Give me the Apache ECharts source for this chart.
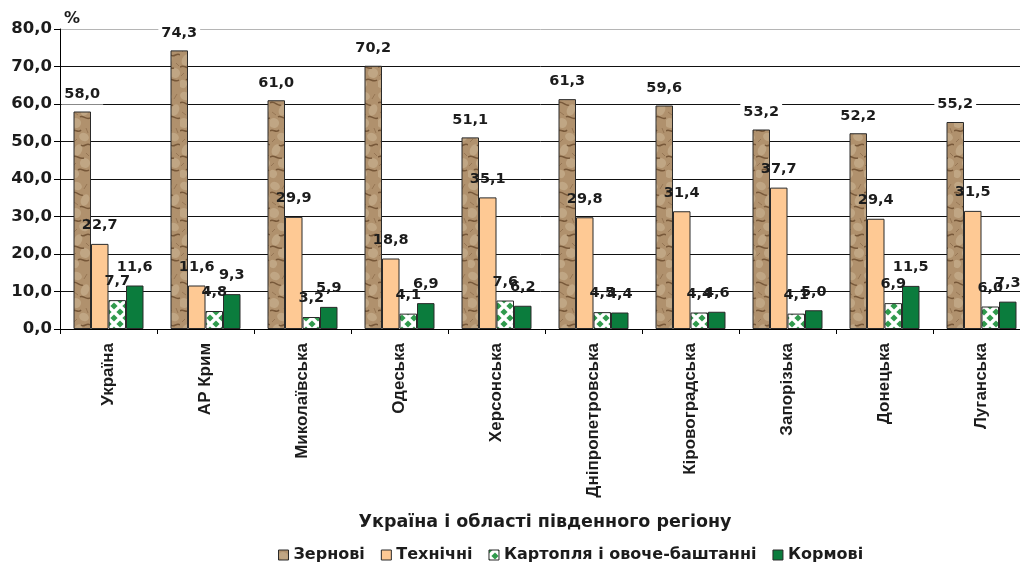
<!DOCTYPE html>
<html>
<head>
<meta charset="utf-8">
<script src="https://cdn.jsdelivr.net/npm/echarts@6/dist/echarts.min.js"></script>
<style>
  html, body { margin: 0; padding: 0; background: #fff; }
  #chart { width: 1020px; height: 564px; }
</style>
</head>
<body>
<div id="chart"></div>
<script>
// регіони
const regions = ['Україна', 'АР Крим', 'Миколаївська', 'Одеська', 'Херсонська',
  'Дніпропетровська', 'Кіровоградська', 'Запорізька', 'Донецька', 'Луганська'];

// частка культур у посівних площах, %
const grain = [58.0, 74.3, 61.0, 70.2, 51.1, 61.3, 59.6, 53.2, 52.2, 55.2];
const industrial = [22.7, 11.6, 29.9, 18.8, 35.1, 29.8, 31.4, 37.7, 29.4, 31.5];
const potatoVeg = [7.7, 4.8, 3.2, 4.1, 7.6, 4.5, 4.4, 4.1, 6.9, 6.0];
const fodder = [11.6, 9.3, 5.9, 6.9, 6.2, 4.4, 4.6, 5.0, 11.5, 7.3];

const seriesNames = ['Зернові', 'Технічні', 'Картопля і овоче-баштанні', 'Кормові'];

const fmt = v => v.toFixed(1).replace('.', ',');

// текстура "камінь" для зернових
function stoneTexture() {
  const c = document.createElement('canvas');
  c.width = 18; c.height = 90;
  const g = c.getContext('2d');
  g.fillStyle = '#b0916d';
  g.fillRect(0, 0, 18, 90);
  // світліші ділянки
  g.fillStyle = 'rgba(205,184,152,0.55)';
  [[5, 6, 5, 4], [13, 20, 4, 6], [4, 33, 5, 5], [12, 47, 5, 4], [6, 60, 4, 6], [13, 73, 5, 5], [3, 84, 4, 4]].forEach(r => {
    g.beginPath(); g.ellipse(r[0], r[1], r[2], r[3], 0.4, 0, Math.PI * 2); g.fill();
  });
  // темні прожилки
  g.strokeStyle = 'rgba(96,64,36,0.7)';
  g.lineWidth = 1.5;
  g.beginPath();
  g.moveTo(0, 13); g.bezierCurveTo(4, 10, 8, 17, 11, 15);
  g.moveTo(8, 27); g.bezierCurveTo(11, 25, 14, 30, 18, 28);
  g.moveTo(0, 41); g.bezierCurveTo(3, 38, 6, 44, 9, 40);
  g.moveTo(9, 55); g.bezierCurveTo(12, 58, 15, 52, 18, 55);
  g.moveTo(0, 67); g.bezierCurveTo(5, 64, 7, 70, 12, 68);
  g.moveTo(6, 80); g.bezierCurveTo(9, 77, 13, 83, 17, 80);
  g.stroke();
  g.strokeStyle = 'rgba(120,86,56,0.45)';
  g.lineWidth = 1;
  g.beginPath();
  g.moveTo(15, 4); g.lineTo(12, 9);
  g.moveTo(2, 22); g.lineTo(6, 25);
  g.moveTo(14, 38); g.lineTo(16, 43);
  g.moveTo(2, 52); g.lineTo(5, 49);
  g.moveTo(14, 63); g.lineTo(17, 66);
  g.moveTo(1, 76); g.lineTo(4, 73);
  g.stroke();
  return c;
}

// ромбики для картоплі
function diamondTexture() {
  const c = document.createElement('canvas');
  c.width = 12; c.height = 12;
  const g = c.getContext('2d');
  g.fillStyle = '#ffffff';
  g.fillRect(0, 0, 12, 12);
  g.fillStyle = '#2f9a4c';
  const d = (x, y) => {
    g.beginPath();
    g.moveTo(x, y - 3.6); g.lineTo(x + 3.6, y); g.lineTo(x, y + 3.6); g.lineTo(x - 3.6, y);
    g.closePath(); g.fill();
  };
  [[0, 0], [12, 0], [0, 12], [12, 12], [6, 6]].forEach(p => d(p[0], p[1]));
  return c;
}

const chart = echarts.init(document.getElementById('chart'));

const hFont = 'DejaVu Sans';
const txt = '#1c1c1c';

const labelBase = {
  show: true,
  position: 'top',
  distance: 11,
  fontFamily: hFont,
  fontWeight: 'bold',
  fontSize: 14.5,
  color: txt,
  formatter: p => fmt(p.value)
};

const mkSeries = (name, data, color, extraLabel) => ({
  name: name,
  type: 'bar',
  data: data,
  barWidth: 17.5,
  barGap: '0%',
  itemStyle: { color: color, borderColor: '#2a2a2a', borderWidth: 1 },
  label: Object.assign({}, labelBase, extraLabel || {})
});

const gridColors = ['#000', '#111', '#111', '#111', '#111', '#111', '#111', '#111', '#b5b5b5'];

const option = {
  backgroundColor: '#fff',
  animation: false,
  grid: { left: 60, width: 970, top: 29, bottom: 235, outerBoundsMode: 'none' },
  legend: {
    data: seriesNames,
    left: 273,
    top: 542,
    icon: 'rect',
    itemWidth: 10,
    itemHeight: 10,
    itemGap: 16,
    itemStyle: { borderColor: '#2a2a2a', borderWidth: 1 },
    textStyle: { fontFamily: hFont, fontWeight: 'bold', fontSize: 16, color: txt }
  },
  xAxis: {
    type: 'category',
    data: regions,
    name: 'Україна і області південного регіону',
    nameLocation: 'middle',
    nameGap: 184,
    nameTextStyle: { fontFamily: hFont, fontWeight: 'bold', fontSize: 17.5, color: txt },
    axisLine: { lineStyle: { color: '#000', width: 1 } },
    axisTick: { show: true, length: 5, lineStyle: { color: '#000' } },
    axisLabel: {
      rotate: 90,
      interval: 0,
      margin: 14,
      fontFamily: 'Liberation Sans',
      fontWeight: 'bold',
      fontSize: 17,
      color: txt
    }
  },
  yAxis: {
    type: 'value',
    min: 0,
    max: 80,
    interval: 10,
    name: '%',
    nameLocation: 'end',
    nameGap: 2,
    nameTextStyle: { fontFamily: hFont, fontWeight: 'bold', fontSize: 16, color: txt, align: 'left', padding: [0, 0, 0, 4] },
    axisLine: { show: true, lineStyle: { color: '#000', width: 1 } },
    axisTick: { show: true, length: 6, lineStyle: { color: '#000' } },
    axisLabel: {
      margin: 8,
      fontFamily: hFont,
      fontWeight: 'bold',
      fontSize: 16.5,
      color: txt,
      formatter: v => fmt(v)
    },
    splitLine: { show: true, lineStyle: { color: gridColors, width: 1 } }
  },
  series: [
    mkSeries(seriesNames[0], grain, { image: stoneTexture(), repeat: 'repeat' },
      { backgroundColor: '#fff', padding: [3, 3], distance: 7 }),
    mkSeries(seriesNames[1], industrial, '#fec994'),
    mkSeries(seriesNames[2], potatoVeg, { image: diamondTexture(), repeat: 'repeat' }),
    mkSeries(seriesNames[3], fodder, '#0b7c3d')
  ]
};

chart.setOption(option);
</script>
</body>
</html>
